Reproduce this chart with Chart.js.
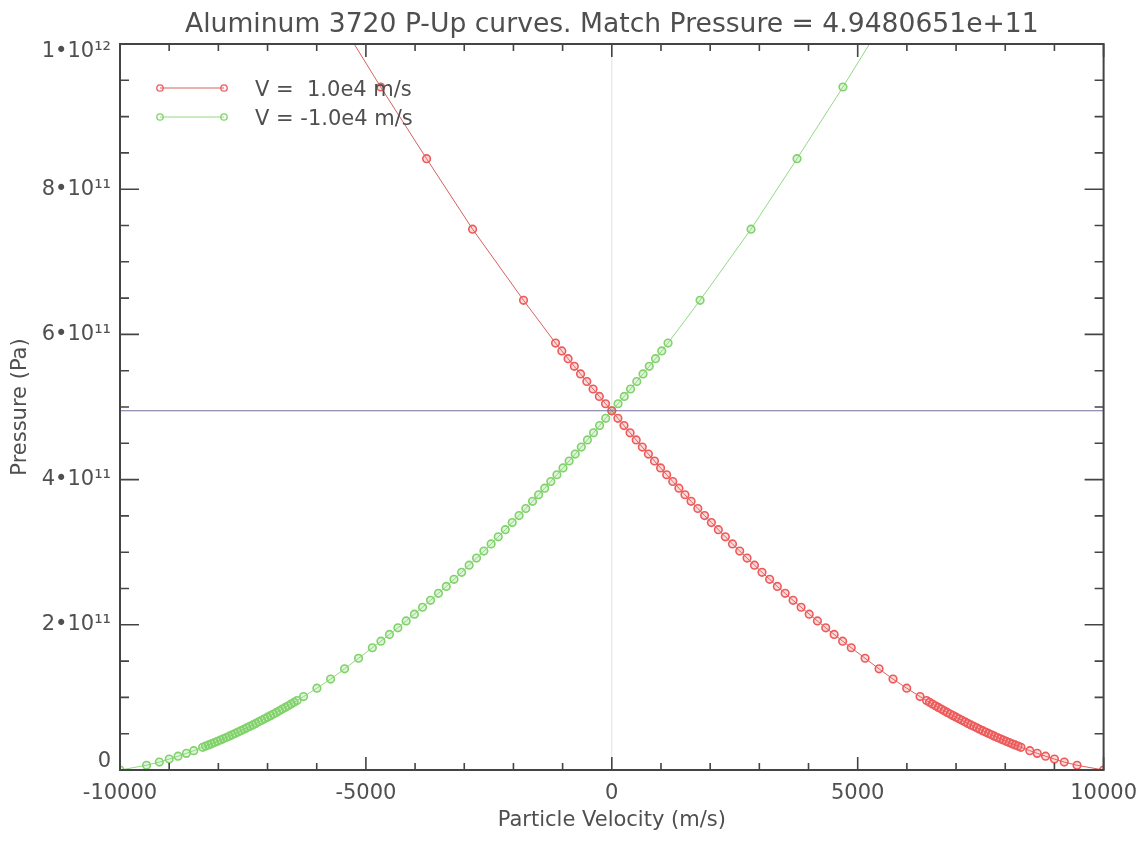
<!DOCTYPE html>
<html>
<head>
<meta charset="utf-8">
<title>Aluminum 3720 P-Up curves</title>
<script src="https://cdn.jsdelivr.net/npm/chart.js@4.4.1/dist/chart.umd.min.js"></script>
<style>
  html, body { margin: 0; padding: 0; background: #fff; }
  canvas { display: block; }
</style>
</head>
<body>
<canvas id="pup" width="1148" height="841"></canvas>
<script>
const titleText = 'Aluminum 3720 P-Up curves. Match Pressure = 4.9480651e+11';
const matchPressure = 4.9480651e11;
const legendLabels = ['V =  1.0e4 m/s', 'V = -1.0e4 m/s'];
const xTickLabels = ['-10000', '-5000', '0', '5000', '10000'];
const yTickLabels = ['0', '2•10¹¹', '4•10¹¹', '6•10¹¹', '8•10¹¹', '1•10¹²'];

// particle velocity (m/s), impactor V = 1.0e4
const velocityRed = [
  -5800, -4700, -3766, -2831, -1795,
  -1144, -1016, -889, -762, -635, -508, -381, -254, -127, 0,
  124, 248, 372, 496, 620, 744, 868, 992, 1116, 1240, 1364, 1488, 1612,
  1749, 1886, 2025, 2166, 2309, 2454, 2601, 2750, 2901, 3054, 3209, 3366, 3525,
  3686, 3849, 4014, 4181, 4350, 4521, 4694, 4869,
  5150, 5434, 5718, 5996, 6268,
  6400, 6460, 6520, 6580, 6640, 6700, 6760, 6820, 6880, 6940, 7000, 7060, 7120,
  7180, 7240, 7300, 7360, 7420, 7480, 7540, 7600, 7660, 7720, 7780, 7840, 7900,
  7960, 8020, 8080, 8140, 8200, 8260, 8320,
  8500, 8650, 8820, 9000, 9200, 9460, 10000
];

// particle velocity (m/s), impactor V = -1.0e4
const velocityGreen = [
  5800, 4700, 3766, 2831, 1795,
  1144, 1016, 889, 762, 635, 508, 381, 254, 127, 0,
  -124, -248, -372, -496, -620, -744, -868, -992, -1116, -1240, -1364, -1488, -1612,
  -1749, -1886, -2025, -2166, -2309, -2454, -2601, -2750, -2901, -3054, -3209, -3366, -3525,
  -3686, -3849, -4014, -4181, -4350, -4521, -4694, -4869,
  -5150, -5434, -5718, -5996, -6268,
  -6400, -6460, -6520, -6580, -6640, -6700, -6760, -6820, -6880, -6940, -7000, -7060, -7120,
  -7180, -7240, -7300, -7360, -7420, -7480, -7540, -7600, -7660, -7720, -7780, -7840, -7900,
  -7960, -8020, -8080, -8140, -8200, -8260, -8320,
  -8500, -8650, -8820, -9000, -9200, -9460, -10000
];

// pressure (Pa), same levels on both curves
const pressure = [
  10.617e11, 9.408e11, 8.42e11, 7.45e11, 6.47e11,
  5.881e11, 5.772e11, 5.666e11, 5.560e11, 5.455e11, 5.351e11, 5.248e11, 5.146e11, 5.045e11, 4.948e11,
  4.844e11, 4.744e11, 4.644e11, 4.546e11, 4.448e11, 4.352e11, 4.256e11, 4.161e11, 4.067e11,
  3.974e11, 3.882e11, 3.791e11, 3.701e11,
  3.602e11, 3.505e11, 3.408e11, 3.310e11, 3.212e11, 3.114e11, 3.016e11, 2.919e11, 2.821e11,
  2.723e11, 2.626e11, 2.529e11, 2.433e11, 2.337e11, 2.242e11, 2.147e11, 2.053e11, 1.959e11,
  1.867e11, 1.775e11, 1.684e11,
  1.539e11, 1.393e11, 1.252e11, 1.127e11, 1.011e11,
  0.957e11, 0.933e11, 0.909e11, 0.885e11, 0.862e11, 0.839e11, 0.816e11, 0.793e11, 0.771e11,
  0.749e11, 0.727e11, 0.705e11, 0.684e11, 0.663e11, 0.642e11, 0.621e11, 0.601e11, 0.581e11,
  0.561e11, 0.542e11, 0.523e11, 0.504e11, 0.485e11, 0.466e11, 0.448e11, 0.430e11, 0.413e11,
  0.395e11, 0.378e11, 0.361e11, 0.345e11, 0.329e11, 0.313e11,
  0.266e11, 0.229e11, 0.190e11, 0.150e11, 0.109e11, 0.065e11, 0
];

const red = '#ee5a5a', redLine = '#d8605d';
const green = '#80d26a', greenLine = '#92d986';
const textColor = '#4f4f4f', axisColor = '#444444';
const fontFamily = "'DejaVu Sans', sans-serif";

Chart.defaults.font.family = fontFamily;
Chart.defaults.color = textColor;

function curve(vel) {
  return vel.map((v, i) => ({x: v, y: pressure[i]}));
}

// IDL style box: inward ticks on all four sides, title and legend inside the plot
const idlFrame = {
  id: 'idlFrame',
  afterDraw(chart) {
    const {ctx, chartArea: a, scales: {x, y}} = chart;
    ctx.save();
    ctx.strokeStyle = axisColor;
    ctx.lineWidth = 1.6;
    ctx.beginPath();
    for (let k = 0; k <= 20; k++) {
      const px = x.getPixelForValue(-10000 + k * 1000);
      const len = k % 5 === 0 ? 13 : 7;
      ctx.moveTo(px, a.bottom); ctx.lineTo(px, a.bottom - len);
      ctx.moveTo(px, a.top); ctx.lineTo(px, a.top + len);
    }
    for (let k = 0; k <= 20; k++) {
      const py = y.getPixelForValue(k * 5e10);
      const len = k % 4 === 0 ? 19 : 9;
      ctx.moveTo(a.left, py); ctx.lineTo(a.left + len, py);
      ctx.moveTo(a.right, py); ctx.lineTo(a.right - len, py);
    }
    ctx.stroke();
    ctx.lineWidth = 2;
    ctx.strokeRect(a.left, a.top, a.right - a.left, a.bottom - a.top);

    ctx.fillStyle = textColor;
    ctx.textBaseline = 'alphabetic';
    ctx.textAlign = 'center';
    ctx.font = '26.6px ' + fontFamily;
    ctx.fillText(titleText, (a.left + a.right) / 2, 32);

    const rows = [
      {label: legendLabels[0], line: redLine, mark: red, y: a.top + 44},
      {label: legendLabels[1], line: greenLine, mark: green, y: a.top + 73}
    ];
    ctx.textAlign = 'left';
    ctx.font = '21px ' + fontFamily;
    for (const r of rows) {
      ctx.strokeStyle = r.line;
      ctx.lineWidth = 1;
      ctx.beginPath();
      ctx.moveTo(a.left + 40, r.y); ctx.lineTo(a.left + 104, r.y);
      ctx.stroke();
      ctx.strokeStyle = r.mark;
      ctx.lineWidth = 1.3;
      for (const cx of [a.left + 40, a.left + 104]) {
        ctx.beginPath();
        ctx.arc(cx, r.y, 3.2, 0, Math.PI * 2);
        ctx.stroke();
      }
      ctx.fillStyle = textColor;
      ctx.fillText(r.label, a.left + 135, r.y + 8);
    }
    ctx.restore();
  }
};

const ctx = document.getElementById('pup').getContext('2d');
const chart = new Chart(ctx, {
  type: 'line',
  data: {
    datasets: [
      {
        label: 'Match pressure',
        data: [{x: -10000, y: matchPressure}, {x: 10000, y: matchPressure}],
        borderColor: '#786c9c',
        borderWidth: 1.2,
        pointRadius: 0,
        order: 0
      },
      {
        label: legendLabels[0],
        data: curve(velocityRed),
        borderColor: redLine,
        borderWidth: 1,
        pointRadius: 3.8,
        pointBorderWidth: 1.6,
        pointBorderColor: red,
        pointBackgroundColor: 'rgba(240,110,110,0.25)',
        order: 1
      },
      {
        label: legendLabels[1],
        data: curve(velocityGreen),
        borderColor: greenLine,
        borderWidth: 1,
        pointRadius: 3.8,
        pointBorderWidth: 1.6,
        pointBorderColor: green,
        pointBackgroundColor: 'rgba(130,210,110,0.25)',
        order: 2
      },
      {
        label: 'zero',
        data: [{x: 0, y: 0}, {x: 0, y: 1e12}],
        borderColor: '#e2e2e2',
        borderWidth: 1,
        pointRadius: 0,
        order: 3
      }
    ]
  },
  options: {
    responsive: false,
    animation: false,
    devicePixelRatio: 1,
    layout: {padding: {top: 44, right: 44, bottom: 0, left: 0}},
    elements: {line: {tension: 0}},
    plugins: {
      legend: {display: false},
      tooltip: {enabled: false},
      title: {display: false}
    },
    scales: {
      x: {
        type: 'linear',
        min: -10000,
        max: 10000,
        grid: {display: false, drawTicks: false},
        border: {display: false},
        ticks: {
          stepSize: 5000,
          autoSkip: false,
          maxRotation: 0,
          padding: 11,
          color: textColor,
          font: {size: 21},
          callback: v => xTickLabels[Math.round((v + 10000) / 5000)]
        },
        title: {
          display: true,
          text: 'Particle Velocity (m/s)',
          color: textColor,
          font: {size: 21},
          padding: {top: 0, bottom: 8}
        },
        afterFit(s) { s.height = 71; }
      },
      y: {
        type: 'linear',
        min: 0,
        max: 1e12,
        grid: {display: false, drawTicks: false},
        border: {display: false},
        ticks: {
          stepSize: 2e11,
          autoSkip: false,
          padding: 9,
          color: textColor,
          font: {size: 21, lineHeight: '16px'},
          callback: v => {
            const i = Math.round(v / 2e11);
            if (i === 5) return ['', yTickLabels[i]];
            if (i === 0) return [yTickLabels[i], ''];
            return yTickLabels[i];
          }
        },
        title: {
          display: true,
          text: 'Pressure (Pa)',
          color: textColor,
          font: {size: 21},
          padding: {top: 8, bottom: 0}
        },
        afterFit(s) { s.width = 120; }
      }
    }
  },
  plugins: [idlFrame]
});
</script>
</body>
</html>
